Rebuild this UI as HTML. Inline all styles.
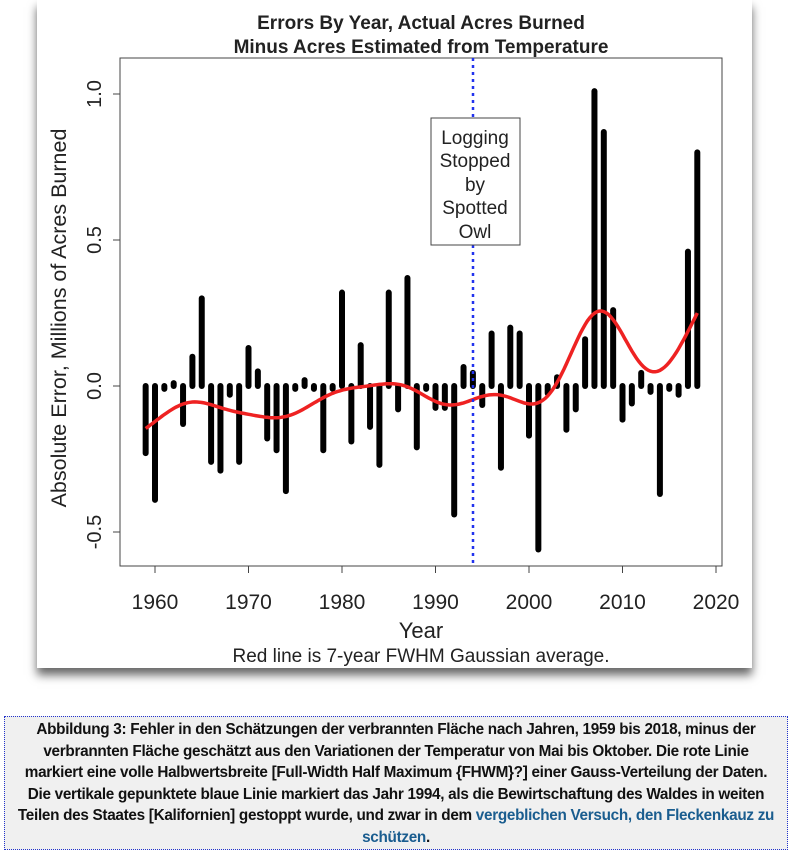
<!DOCTYPE html>
<html><head><meta charset="utf-8"><style>
body{margin:0;width:795px;height:853px;background:#fff;position:relative;overflow:hidden;font-family:"Liberation Sans",sans-serif}
.card{position:absolute;left:37px;top:0;width:715px;height:668px;background:#fff;box-shadow:0 7px 9px rgba(0,0,0,0.6)}
.cap{position:absolute;left:4px;top:716px;width:782px;height:130px;background:#f0f0f0;border:1px dotted #2233cc;text-align:center;font-weight:bold;font-size:15.3px;line-height:21.6px;color:#111;padding-top:2px;white-space:nowrap;letter-spacing:-0.3px}
.cap a{color:#1a5d8f;text-decoration:none}
</style></head><body>
<div class="card"></div>
<svg id="s" width="795" height="680" style="position:absolute;left:0;top:0" font-family="Liberation Sans, sans-serif">
<text x="421" y="29" text-anchor="middle" font-weight="bold" font-size="19" fill="#222">Errors By Year, Actual Acres Burned</text>
<text x="421" y="53" text-anchor="middle" font-weight="bold" font-size="19" fill="#222">Minus Acres Estimated from Temperature</text>
<rect x="120" y="58" width="602" height="508" fill="none" stroke="#444" stroke-width="1"/>
<g id="g"></g>
<text transform="translate(66,318) rotate(-90)" text-anchor="middle" font-size="21.5" fill="#222">Absolute Error, Millions of Acres Burned</text>
<text x="421" y="638" text-anchor="middle" font-size="22" fill="#222">Year</text>
<text x="421" y="662" text-anchor="middle" font-size="19" fill="#222">Red line is 7-year FWHM Gaussian average.</text>
<rect x="431" y="118" width="89" height="127" fill="#fff" stroke="#444"/>
<g font-size="19" fill="#222" text-anchor="middle">
<text x="475" y="144">Logging</text><text x="475" y="167">Stopped</text><text x="475" y="191">by</text><text x="475" y="214">Spotted</text><text x="475" y="238">Owl</text></g>
</svg>
<div class="cap">Abbildung 3: Fehler in den Schätzungen der verbrannten Fläche nach Jahren, 1959 bis 2018, minus der<br>verbrannten Fläche geschätzt aus den Variationen der Temperatur von Mai bis Oktober. Die rote Linie<br>markiert eine volle Halbwertsbreite [Full-Width Half Maximum {FHWM}?] einer Gauss-Verteilung der Daten.<br>Die vertikale gepunktete blaue Linie markiert das Jahr 1994, als die Bewirtschaftung des Waldes in weiten<br>Teilen des Staates [Kalifornien] gestoppt wurde, und zwar in dem <a>vergeblichen Versuch, den Fleckenkauz zu</a><br><a>schützen</a>.</div>
<script>
var d=[-0.23,-0.39,-0.01,0.01,-0.13,0.1,0.3,-0.26,-0.29,-0.03,-0.26,0.13,0.05,-0.18,-0.22,-0.36,-0.01,0.02,-0.01,-0.22,-0.01,0.32,-0.19,0.14,-0.14,-0.27,0.32,-0.08,0.37,-0.21,-0.01,-0.075,-0.075,-0.44,0.065,0.045,-0.065,0.18,-0.28,0.2,0.18,-0.17,-0.56,-0.025,0.03,-0.15,-0.08,0.16,1.01,0.87,0.26,-0.115,-0.06,0.045,-0.02,-0.37,-0.01,-0.03,0.46,0.8];
function X(y){return 155+(y-1960)*9.35}function Y(v){return 386-v*292}
var h='';
[1960,1970,1980,1990,2000,2010,2020].forEach(function(y){h+='<line x1="'+X(y)+'" y1="566" x2="'+X(y)+'" y2="573" stroke="#444"/><text x="'+X(y)+'" y="609" text-anchor="middle" font-size="21" fill="#222">'+y+'</text>'});
[[-0.5,'-0.5'],[0,'0.0'],[0.5,'0.5'],[1,'1.0']].forEach(function(t){var y=Y(t[0]);h+='<line x1="113" y1="'+y+'" x2="120" y2="'+y+'" stroke="#444"/><text transform="translate(101,'+y+') rotate(-90)" text-anchor="middle" font-size="20" fill="#222">'+t[1]+'</text>'});
d.forEach(function(v,i){var x=X(1959+i);h+='<line x1="'+x+'" y1="386" x2="'+x+'" y2="'+Y(v)+'" stroke="#000" stroke-width="6" stroke-linecap="round"/>'});
var s=7/2.3548,p='';
for(var t=1959;t<=2018.001;t+=0.25){var a=0,w=0;d.forEach(function(v,i){var k=Math.exp(-Math.pow(t-1959-i,2)/(2*s*s));a+=k*v;w+=k});p+=(p?'L':'M')+X(t).toFixed(1)+','+Y(a/w).toFixed(1)}
h+='<path d="'+p+'" fill="none" stroke="#ee2222" stroke-width="3.5"/>';
h+='<line x1="473" y1="58" x2="473" y2="118" stroke="#2233ee" stroke-width="2.5" stroke-dasharray="3,4"/><line x1="473" y1="245" x2="473" y2="566" stroke="#2233ee" stroke-width="2.5" stroke-dasharray="3,4"/>';
document.getElementById('g').innerHTML=h;
</script>
</body></html>
